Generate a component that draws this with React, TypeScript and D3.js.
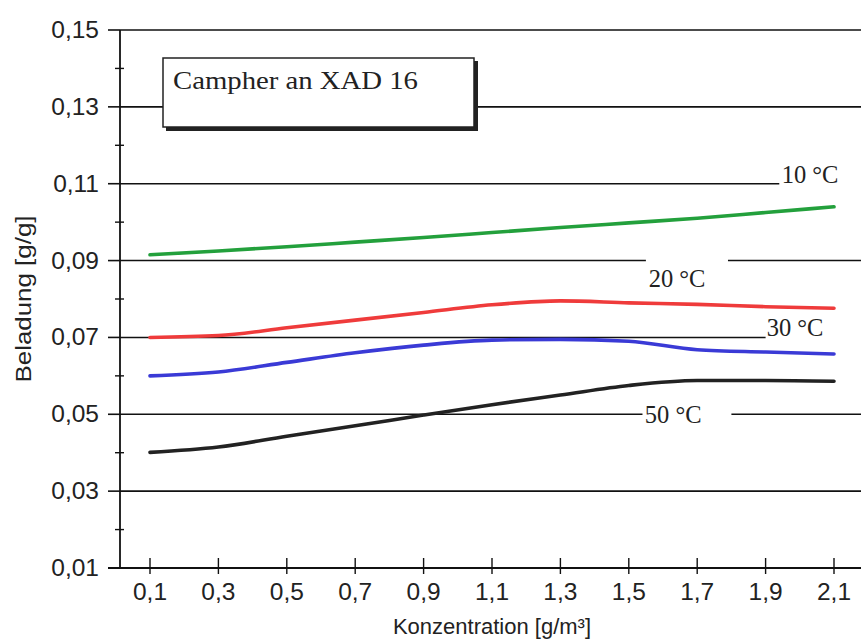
import { useEffect, useRef } from 'react';
import * as d3 from 'd3';

// concentration [g/m³]
const conc = [0.1, 0.3, 0.5, 0.7, 0.9, 1.1, 1.3, 1.5, 1.7, 1.9, 2.1];

// loading [g/g] per temperature
const t10 = [0.0915, 0.0925, 0.0936, 0.0948, 0.096, 0.0973, 0.0986, 0.0998, 0.101, 0.1025, 0.104];
const t20 = [0.07, 0.0705, 0.0725, 0.0745, 0.0765, 0.0785, 0.0795, 0.079, 0.0786, 0.078, 0.0776];
const t30 = [0.06, 0.061, 0.0635, 0.066, 0.068, 0.0693, 0.0695, 0.069, 0.0668, 0.0662, 0.0657];
const t50 = [0.0401, 0.0415, 0.0443, 0.047, 0.0498, 0.0525, 0.055, 0.0575, 0.0588, 0.0588, 0.0586];

const seriesNames = ['10 °C', '20 °C', '30 °C', '50 °C'];
const seriesColors = ['#23a03c', '#ef3b3b', '#3a3ad6', '#222222'];

const yMajor = [0.01, 0.03, 0.05, 0.07, 0.09, 0.11, 0.13, 0.15];
const yMinor = [0.02, 0.04, 0.06, 0.08, 0.1, 0.12, 0.14];
const fmt = (v: number) => d3.format('.2f')(v).replace('.', ',');

// label anchors (data units) and gridline gap they cut out
const labelX = [1.947, 1.558, 1.903, 1.547];
const labelY = [0.1102, 0.0831, 0.0705, 0.0478];
const gridGap = [
  { y: 0.11, from: 1.94, to: 2.3 },
  { y: 0.09, from: 1.55, to: 1.79 },
  { y: 0.07, from: 1.9, to: 2.3 },
  { y: 0.05, from: 1.54, to: 1.8 },
];

export default function App() {
  const svgRef = useRef<SVGSVGElement>(null);

  useEffect(() => {
    const svg = d3.select(svgRef.current);
    svg.selectAll('*').remove();

    const W = 861;
    const H = 639;
    const axisX = 120;
    const x = d3.scaleLinear().domain([0.1, 2.1]).range([150, 834]);
    const y = d3.scaleLinear().domain([0.01, 0.15]).range([568, 30]);
    const sans = 'Liberation Sans, Arial, sans-serif';
    const serif = 'Liberation Serif, Times New Roman, serif';

    svg.append('rect').attr('width', W).attr('height', H).attr('fill', '#fff');

    // gridlines, with gaps for the labels
    yMajor.slice(1).forEach(v => {
      const g = gridGap.find(d => d.y === v);
      const segs = g ? [[axisX, x(g.from)], [x(g.to), W]] : [[axisX, W]];
      segs.forEach(([a, b]) => {
        if (b <= a) return;
        svg.append('line')
          .attr('x1', a).attr('x2', Math.min(b, W))
          .attr('y1', y(v)).attr('y2', y(v))
          .attr('stroke', '#111').attr('stroke-width', 1.6);
      });
    });

    // axes
    svg.append('line').attr('x1', axisX).attr('x2', axisX)
      .attr('y1', y(0.15)).attr('y2', y(0.01))
      .attr('stroke', '#111').attr('stroke-width', 1.8);
    svg.append('line').attr('x1', 108).attr('x2', W)
      .attr('y1', y(0.01)).attr('y2', y(0.01))
      .attr('stroke', '#111').attr('stroke-width', 1.8);

    yMajor.forEach(v => {
      svg.append('line').attr('x1', 108).attr('x2', axisX)
        .attr('y1', y(v)).attr('y2', y(v)).attr('stroke', '#111').attr('stroke-width', 1.6);
      svg.append('text')
        .attr('x', 99).attr('y', y(v) + 8)
        .attr('text-anchor', 'end')
        .attr('font-family', sans)
        .attr('font-size', 24.5)
        .attr('fill', '#222')
        .text(fmt(v));
    });
    yMinor.forEach(v => {
      svg.append('line').attr('x1', axisX - 5).attr('x2', axisX + 4)
        .attr('y1', y(v)).attr('y2', y(v)).attr('stroke', '#111').attr('stroke-width', 1.4);
    });

    conc.forEach(c => {
      svg.append('line').attr('x1', x(c)).attr('x2', x(c))
        .attr('y1', y(0.01) - 10).attr('y2', y(0.01) + 6)
        .attr('stroke', '#111').attr('stroke-width', 1.4);
      svg.append('text')
        .attr('x', x(c)).attr('y', y(0.01) + 32)
        .attr('text-anchor', 'middle')
        .attr('font-family', sans)
        .attr('font-size', 24.5)
        .attr('fill', '#222')
        .text(d3.format('.1f')(c).replace('.', ','));
    });

    // axis titles
    svg.append('text')
      .attr('transform', `translate(31, ${(215 + 383) / 2}) rotate(-90)`)
      .attr('text-anchor', 'middle')
      .attr('font-family', sans)
      .attr('font-size', 22)
      .attr('textLength', 167)
      .attr('lengthAdjust', 'spacingAndGlyphs')
      .attr('fill', '#222')
      .text('Beladung [g/g]');
    svg.append('text')
      .attr('x', 492).attr('y', 634)
      .attr('text-anchor', 'middle')
      .attr('font-family', sans)
      .attr('font-size', 22)
      .attr('fill', '#222')
      .text('Konzentration [g/m³]');

    // series
    const all = [t10, t20, t30, t50];
    const line = d3.line<number>()
      .x((_, i) => x(conc[i]))
      .y(d => y(d))
      .curve(d3.curveMonotoneX);
    all.forEach((vals, k) => {
      svg.append('path')
        .attr('d', line(vals))
        .attr('fill', 'none')
        .attr('stroke', seriesColors[k])
        .attr('stroke-width', 3.6)
        .attr('stroke-linecap', 'round');
    });

    // series labels
    seriesNames.forEach((n, k) => {
      svg.append('text')
        .attr('x', x(labelX[k])).attr('y', y(labelY[k]))
        .attr('font-family', serif)
        .attr('font-size', 24.5)
        .attr('fill', '#222')
        .text(n);
    });

    // title box with shadow
    svg.append('rect').attr('x', 166).attr('y', 61).attr('width', 312).attr('height', 70).attr('fill', '#222');
    svg.append('rect').attr('x', 163).attr('y', 58).attr('width', 311).attr('height', 69)
      .attr('fill', '#fff').attr('stroke', '#222').attr('stroke-width', 1.5);
    svg.append('text')
      .attr('x', 173).attr('y', 89)
      .attr('font-family', serif)
      .attr('font-size', 26)
      .attr('textLength', 245)
      .attr('lengthAdjust', 'spacingAndGlyphs')
      .attr('fill', '#222')
      .text('Campher an XAD 16');
  }, []);

  return (
    <svg ref={svgRef} width={861} height={639}
      style={{ position: 'absolute', left: 0, top: 0, display: 'block' }} />
  );
}
